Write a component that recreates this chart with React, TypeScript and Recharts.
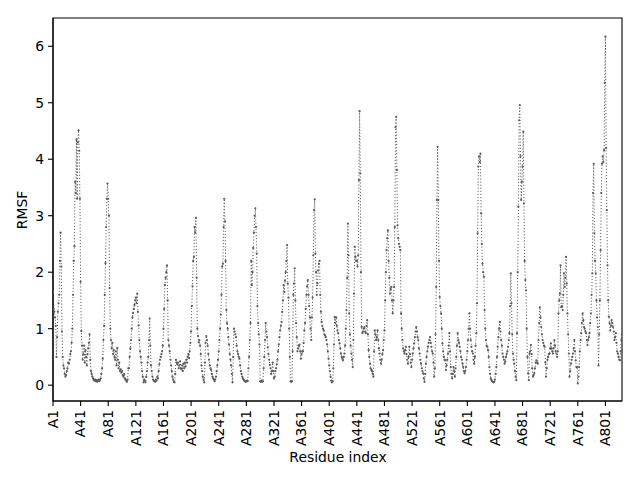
import React from "react";
import { LineChart, Line, XAxis, YAxis, ReferenceArea } from "recharts";

// RMSF per residue (index 0 = A1)
const rmsf = [
  1.65, 1.35, 1.3, 1.2, 1.05, 0.5, 0.85, 1.3, 1.45, 1.6,
  2.2, 2.7, 2.1, 0.95, 0.5, 0.35, 0.3, 0.2, 0.15, 0.18,
  0.25, 0.3, 0.4, 0.38, 0.45, 0.55, 0.6, 0.75, 1.0, 1.6,
  2.2, 2.46, 3.6, 3.4, 4.35, 3.3, 4.3, 4.51, 4.15, 3.3,
  1.83, 0.96, 0.7, 0.45, 0.55, 0.7, 0.4, 0.62, 0.5, 0.35,
  0.55, 0.65, 0.75, 0.9, 0.45, 0.25, 0.2, 0.15, 0.12, 0.1,
  0.08, 0.1, 0.07, 0.09, 0.06, 0.08, 0.1, 0.07, 0.09, 0.12,
  0.2, 0.3, 0.47, 0.8, 1.05, 1.6, 2.16, 2.8, 3.3, 3.57,
  3.3, 3.0, 1.72, 1.0, 0.8, 0.65, 0.75, 0.55, 0.62, 0.5,
  0.45, 0.6, 0.35, 0.66, 0.45, 0.3, 0.4, 0.25, 0.28, 0.22,
  0.25, 0.18, 0.15, 0.2, 0.12, 0.1, 0.08, 0.06, 0.1, 0.3,
  0.3, 0.5, 0.65, 0.8, 1.0, 1.2, 1.28, 1.35, 1.42, 1.5,
  1.55, 1.45, 1.62, 1.3, 1.06, 0.8, 0.6, 0.5, 0.4, 0.25,
  0.15, 0.05, 0.1, 0.08, 0.05, 0.15, 0.25, 0.4, 0.5, 0.8,
  1.18, 0.7, 0.35, 0.25, 0.15, 0.1, 0.08, 0.07, 0.06, 0.1,
  0.08, 0.15, 0.12, 0.25, 0.37, 0.45, 0.5, 0.55, 0.6, 0.7,
  1.0, 1.35, 1.77, 1.9, 2.0, 2.12, 1.5, 0.8, 0.7, 0.6,
  0.45, 0.35, 0.25, 0.15, 0.1, 0.06, 0.05, 0.2, 0.45, 0.4,
  0.37, 0.4, 0.3, 0.35, 0.42, 0.3, 0.28, 0.35, 0.25, 0.38,
  0.3, 0.4, 0.33, 0.45, 0.4, 0.5, 0.55, 0.48, 0.6, 0.75,
  0.95, 1.4, 1.75, 2.2, 2.27, 2.8, 2.7, 2.96, 1.9, 1.0,
  0.87, 0.76, 0.8, 0.7, 0.55, 0.35, 0.25, 0.15, 0.1, 0.05,
  0.4, 0.75, 0.87, 0.8, 0.7, 0.55, 0.45, 0.35, 0.3, 0.27,
  0.2, 0.15, 0.12, 0.1, 0.07, 0.1, 0.15, 0.25, 0.35, 0.45,
  0.6, 0.8, 1.0, 1.25, 1.6, 2.1, 2.15, 2.8, 3.3, 2.9,
  2.2, 1.33, 1.1, 1.0, 0.85, 0.72, 0.55, 0.45, 0.35, 0.2,
  0.05, 0.5, 1.0, 0.95, 0.9, 0.85, 0.7, 0.6, 0.55, 0.5,
  0.47, 0.35, 0.25, 0.2, 0.15, 0.12, 0.1, 0.08, 0.07, 0.06,
  0.07, 0.08, 0.07, 0.3, 0.5, 0.8, 1.1, 2.2, 1.77, 2.0,
  2.43, 2.7, 3.0, 3.13, 2.8, 2.33, 1.4, 1.1, 0.9, 0.72,
  0.07, 0.06, 0.08, 0.06, 0.07, 0.3, 0.5, 0.8, 1.1, 0.95,
  0.85, 0.67, 0.55, 0.45, 0.36, 0.3, 0.2, 0.25, 0.4, 0.25,
  0.12, 0.15, 0.25, 0.3, 0.37, 0.45, 0.6, 0.72, 0.85, 0.97,
  1.05, 1.12, 1.3, 1.5, 1.77, 1.65, 1.85, 2.0, 2.2, 2.48,
  1.8, 1.55, 1.0, 0.5, 0.07, 0.06, 0.07, 0.6, 1.6, 1.8,
  2.07, 1.5, 1.1, 0.85, 0.6, 0.65, 0.7, 0.72, 0.6, 0.47,
  0.55, 0.6, 0.6, 0.75, 0.97, 1.1, 1.35, 1.6, 1.75, 1.86,
  1.6, 1.4, 1.2, 1.0, 0.8, 1.2, 1.55, 2.3, 3.1, 3.29,
  2.33, 2.0, 1.6, 1.8, 2.03, 2.15, 2.2, 1.6, 1.3, 1.12,
  1.05, 1.0, 0.97, 0.9, 0.88, 0.85, 0.8, 0.72, 0.6, 0.47,
  0.35, 0.25, 0.15, 0.08, 0.05, 0.07, 0.3, 0.72, 1.21, 1.1,
  1.2, 1.05, 0.97, 0.92, 0.8, 0.74, 0.65, 0.56, 0.5, 0.47,
  0.44, 0.5, 0.56, 0.7, 1.0, 1.33, 1.9, 2.86, 2.3, 1.27,
  0.9, 0.7, 0.56, 0.45, 0.32, 0.8, 1.62, 2.45, 2.27, 2.2,
  2.2, 2.1, 2.3, 3.63, 4.85, 3.75, 2.0, 1.03, 0.92, 0.95,
  1.0, 1.03, 0.95, 0.92, 1.05, 1.15, 0.9, 0.62, 0.5, 0.38,
  0.3, 0.27, 0.25, 0.2, 0.15, 0.6, 0.97, 0.9, 0.8, 0.85,
  0.97, 0.8, 0.65, 0.56, 0.45, 0.38, 0.45, 0.55, 0.62, 0.8,
  0.97, 1.5, 2.0, 2.39, 2.6, 2.74, 2.2, 1.9, 1.62, 1.7,
  1.74, 1.5, 1.27, 1.5, 1.74, 2.8, 4.57, 4.75, 3.81, 2.83,
  2.6, 2.5, 2.45, 2.39, 1.27, 1.0, 0.8, 0.65, 0.6, 0.56,
  0.62, 0.68, 0.55, 0.45, 0.38, 0.5, 0.68, 0.55, 0.4, 0.32,
  0.45, 0.56, 0.65, 0.74, 0.85, 0.95, 1.03, 0.95, 0.85, 0.8,
  0.65, 0.56, 0.45, 0.38, 0.3, 0.25, 0.21, 0.12, 0.06, 0.2,
  0.38, 0.5, 0.6, 0.68, 0.75, 0.8, 0.85, 0.75, 0.68, 0.6,
  0.56, 0.4, 0.15, 0.3, 0.9, 1.74, 3.28, 4.22, 3.28, 2.2,
  1.56, 1.4, 1.27, 1.0, 0.74, 0.6, 0.5, 0.45, 0.44, 0.27,
  0.35, 0.45, 0.56, 0.7, 0.92, 0.6, 0.32, 0.2, 0.12, 0.2,
  0.32, 0.25, 0.15, 0.3, 0.5, 0.7, 0.92, 0.8, 0.75, 0.68,
  0.6, 0.5, 0.45, 0.38, 0.32, 0.25, 0.21, 0.25, 0.32, 0.45,
  0.6, 0.8, 1.0, 1.27, 1.0, 0.8, 0.68, 0.6, 0.56, 0.45,
  0.38, 0.5, 0.7, 0.92, 1.45, 2.69, 3.87, 4.05, 3.95, 4.1,
  3.04, 2.5, 2.15, 2.0, 1.92, 1.33, 1.0, 0.8, 0.7, 0.68,
  0.62, 0.5, 0.32, 0.2, 0.12, 0.09, 0.07, 0.06, 0.05, 0.06,
  0.1, 0.2, 0.32, 0.5, 0.68, 0.85, 1.0, 1.12, 0.95, 0.8,
  0.7, 0.56, 0.5, 0.45, 0.38, 0.42, 0.5, 0.55, 0.6, 0.68,
  0.8, 0.92, 1.4, 1.98, 1.45, 0.9, 0.56, 0.45, 0.38, 0.25,
  0.15, 0.09, 0.92, 2.0, 3.16, 4.69, 4.96, 4.05, 3.28, 3.6,
  3.87, 4.49, 3.22, 2.2, 1.86, 1.68, 1.0, 0.5, 0.21, 0.09,
  0.56, 0.6, 0.71, 0.55, 0.3, 0.15, 0.18, 0.21, 0.3, 0.4,
  0.44, 0.4, 0.38, 0.8, 1.1, 1.38, 1.2, 1.03, 0.9, 0.8,
  0.75, 0.7, 0.68, 0.4, 0.15, 0.3, 0.45, 0.5, 0.55, 0.56,
  0.65, 0.74, 0.65, 0.6, 0.56, 0.65, 0.8, 0.7, 0.6, 0.56,
  0.5, 0.6, 1.27, 1.5, 1.62, 2.12, 1.38, 1.4, 1.33, 1.6,
  1.98, 1.74, 1.9, 2.27, 1.8, 1.27, 0.9, 0.56, 0.15, 0.25,
  0.38, 0.45, 0.5, 0.56, 0.65, 0.8, 0.6, 0.44, 0.32, 0.32,
  0.03, 0.15, 0.32, 0.6, 0.8, 0.92, 1.1, 1.27, 1.15, 1.03,
  1.0, 0.95, 0.92, 0.8, 0.71, 0.8, 0.85, 0.92, 1.1, 1.27,
  1.6, 1.98, 3.4, 3.92, 2.69, 2.2, 1.98, 1.5, 1.2, 1.03,
  0.35, 0.9, 1.5, 2.39, 3.4, 3.92, 4.05, 3.95, 4.16, 5.35,
  6.17, 4.2, 3.1, 2.12, 1.5, 1.21, 1.1, 0.97, 1.05, 1.15,
  1.1, 1.03, 0.95, 0.8, 0.85, 0.92, 0.75, 0.6, 0.56, 0.5,
  0.45, 0.44, 0.6, 0.8, 0.9,
];

const residues = rmsf.map((_, i) => `A${i + 1}`);
const xTicks = [0, 40, 80, 120, 160, 200, 240, 280, 320, 360, 400, 440, 480, 520, 560, 600, 640, 680, 720, 760, 800];
const yTicks = [0, 1, 2, 3, 4, 5, 6];

const data = rmsf.map((v, i) => ({ idx: i, residue: residues[i], rmsf: v }));

const FONT = "DejaVu Sans, sans-serif";
const FS = 13.9;
const LINE = "#5a5a5a";
const Y_MIN = -0.28;
const Y_MAX = 6.5;
const X_MAX = rmsf.length - 1;

function XTick({ x, y, payload }: any) {
  return (
    <g transform={`translate(${x},${y})`}>
      <text transform="rotate(-90)" textAnchor="end" dy="0.35em" fontFamily={FONT} fontSize={FS} fill="#000">
        {residues[payload.value]}
      </text>
    </g>
  );
}

export default function App() {
  return (
    <div style={{ position: "absolute", left: 0, top: 0, width: 640, height: 480, background: "#fff" }}>
      <LineChart width={640} height={480} data={data} margin={{ top: 18, right: 18, bottom: 19, left: 0 }}>
        <XAxis
          dataKey="idx"
          type="number"
          domain={[0, X_MAX]}
          allowDataOverflow
          ticks={xTicks}
          interval={0}
          height={60}
          tickSize={5}
          tickMargin={4}
          tick={<XTick />}
          stroke="#000"
          tickLine={{ stroke: "#000", strokeWidth: 1.1 }}
          axisLine={{ stroke: "#000", strokeWidth: 1.1 }}
        />
        <YAxis
          type="number"
          domain={[Y_MIN, Y_MAX]}
          allowDataOverflow
          ticks={yTicks}
          interval={0}
          width={53}
          tickSize={5}
          tickMargin={4}
          tick={{ fontFamily: FONT, fontSize: FS, fill: "#000" }}
          stroke="#000"
          tickLine={{ stroke: "#000", strokeWidth: 1.1 }}
          axisLine={{ stroke: "#000", strokeWidth: 1.1 }}
        />
        <ReferenceArea x1={0} x2={X_MAX} y1={Y_MIN} y2={Y_MAX} fill="none" stroke="#000" strokeWidth={1.1} ifOverflow="visible" />
        <Line
          type="linear"
          dataKey="rmsf"
          stroke={LINE}
          strokeWidth={1}
          strokeDasharray="1.1 2"
          dot={{ r: 1.1, fill: LINE, stroke: "none" }}
          activeDot={false}
          isAnimationActive={false}
        />
      </LineChart>
      <div
        style={{
          position: "absolute", left: 22, top: 210, transform: "translate(-50%,-50%) rotate(-90deg)",
          fontFamily: FONT, fontSize: FS, color: "#000", whiteSpace: "nowrap",
        }}
      >
        RMSF
      </div>
      <div
        style={{
          position: "absolute", left: 338, top: 457, transform: "translate(-50%,-50%)",
          fontFamily: FONT, fontSize: FS, color: "#000", whiteSpace: "nowrap",
        }}
      >
        Residue index
      </div>
    </div>
  );
}
